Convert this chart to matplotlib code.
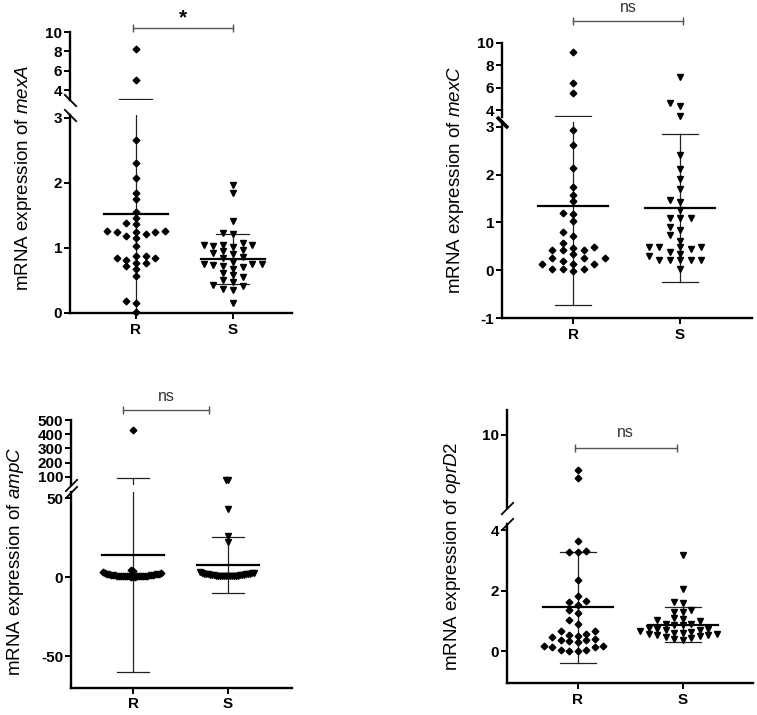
import numpy as np
import matplotlib
matplotlib.use("Agg")
import matplotlib.pyplot as plt

plt.rcParams['font.family'] = ['Liberation Sans', 'DejaVu Sans']
plt.rcParams['mathtext.fontset'] = 'custom'
plt.rcParams['mathtext.rm'] = 'Liberation Sans'
plt.rcParams['mathtext.it'] = 'Liberation Sans:italic'
plt.rcParams['axes.unicode_minus'] = False

groups = ['R', 'S']

# mexA
mexA_R = [8.2, 5.0, 2.66, 2.30, 2.07, 1.85, 1.76, 1.56, 1.46, 1.39, 1.37, 1.26, 1.26,
          1.25, 1.25, 1.24, 1.21, 1.18, 1.16, 1.03, 0.87, 0.87, 0.85, 0.84, 0.82, 0.77,
          0.77, 0.72, 0.68, 0.57, 0.19, 0.16, 0.02]
mexA_S = [1.97, 1.84, 1.41, 1.23, 1.21, 1.07, 1.05, 1.05, 1.04, 1.03, 1.02, 0.97, 0.96,
          0.92, 0.90, 0.86, 0.85, 0.78, 0.76, 0.75, 0.75, 0.74, 0.73, 0.70, 0.68, 0.62,
          0.58, 0.55, 0.50, 0.48, 0.43, 0.41, 0.37, 0.35, 0.16]
mexA_mean = [1.52, 0.83]
mexA_sd = [1.60, 0.39]

# mexC
mexC_R = [9.15, 6.45, 5.55, 2.93, 2.63, 2.14, 1.74, 1.58, 1.46, 1.20, 1.17, 1.04, 0.81,
          0.71, 0.58, 0.49, 0.47, 0.42, 0.42, 0.42, 0.33, 0.25, 0.25, 0.25, 0.19, 0.14,
          0.14, 0.14, 0.03, 0.03, 0.03, -0.01]
mexC_S = [7.0, 4.6, 4.35, 3.47, 2.42, 2.12, 1.91, 1.70, 1.48, 1.42, 1.27, 1.10, 1.10,
          1.10, 0.90, 0.84, 0.73, 0.62, 0.49, 0.49, 0.49, 0.49, 0.44, 0.39, 0.35, 0.29,
          0.21, 0.21, 0.21, 0.21, 0.21, 0.02]
mexC_mean = [1.35, 1.30]
mexC_sd = [2.08, 1.55]

# ampC
ampC_R = [430, 4.4, 3.6, 2.9, 2.6, 2.4, 2.2, 2.0, 1.9, 1.8, 1.6, 1.5, 1.4, 1.3, 1.2,
          1.1, 1.0, 0.95, 0.9, 0.85, 0.8, 0.75, 0.7, 0.65, 0.6, 0.55, 0.5, 0.45, 0.4,
          0.35, 0.3, 0.25, 0.2]
ampC_S = [80, 76, 43, 26, 22, 3.2, 2.8, 2.5, 2.3, 2.1, 2.0, 1.9, 1.8, 1.7, 1.6, 1.5,
          1.4, 1.3, 1.2, 1.1, 1.0, 0.95, 0.9, 0.85, 0.8, 0.75, 0.7, 0.65, 0.6, 0.55,
          0.5, 0.45, 0.4]
ampC_mean = [14.0, 7.6]
ampC_sd = [74.0, 17.9]

# oprD2
oprD2_R = [8.6, 8.3, 3.65, 3.30, 3.28, 3.27, 2.35, 1.83, 1.65, 1.62, 1.52, 1.37, 1.26,
           1.02, 0.90, 0.67, 0.65, 0.55, 0.52, 0.50, 0.48, 0.40, 0.37, 0.35, 0.32, 0.30,
           0.18, 0.16, 0.15, 0.14, 0.03, 0.02, 0.01, 0.00]
oprD2_S = [3.18, 2.06, 1.62, 1.60, 1.35, 1.30, 1.28, 1.08, 1.05, 1.03, 1.00, 0.90, 0.88,
           0.86, 0.85, 0.75, 0.73, 0.72, 0.70, 0.68, 0.66, 0.63, 0.60, 0.58, 0.56, 0.55,
           0.53, 0.52, 0.50, 0.48, 0.42, 0.40, 0.38]
oprD2_mean = [1.44, 0.87]
oprD2_sd = [1.84, 0.58]

W, H = 757, 715
fig = plt.figure(figsize=(W / 100, H / 100), dpi=100)


def box(l, t, r, b):
    return [l / W, 1 - b / H, (r - l) / W, (b - t) / H]


def brk(ax, y, style, lw=1.3, ms=9):
    pts = [(-1, -1), (1, 1)] if style == '/' else [(-1, 1), (1, -1)]
    ax.plot([0], [y], transform=ax.transAxes, marker=pts, ms=ms, mew=lw,
            color='black', clip_on=False, zorder=10)


def swarm(lo, hi, split, pos, vals, xstep, dy):
    px = lo.transData.transform((1, 0))[0] - lo.transData.transform((0, 0))[0]
    order = np.argsort(vals)
    cands = [0]
    for j in range(1, 60):
        cands += [-j, j]
    placed = []
    out = []
    for i in order:
        v = vals[i]
        ax = hi if v > split else lo
        yp = ax.transData.transform((0, v))[1]
        for c in cands:
            if all(not (pc == c and abs(py - yp) < dy) for pc, py in placed):
                break
        placed.append((c, yp))
        out.append((ax, pos + c * xstep / px, v))
    return out


panels = [
    dict(R=mexA_R, S=mexA_S, mean=mexA_mean, sd=mexA_sd, gene='mexA',
         x=(70, 292), xlim=(-0.68, 1.61),
         up=((3.0, 10), 32, 99.7), lo=((0, 3.05), 114.7, 313),
         upt=[4, 6, 8, 10], lot=[0, 1, 2, 3], brk='\\', xstep=9.7, dy=5.5,
         bar=(-0.03, 1.0, 10.41), txt='*', tdy=1.1, lab=(24, 178)),
    dict(R=mexC_R, S=mexC_S, mean=mexC_mean, sd=mexC_sd, gene='mexC',
         x=(502, 752), xlim=(-0.664, 1.673),
         up=((3.35, 10), 43, 117.3), lo=((-1, 3.1), 122.2, 318),
         upt=[4, 6, 8, 10], lot=[-1, 0, 1, 2, 3], brk='thick', xstep=10.5, dy=5.5,
         bar=(0.0, 1.03, 11.97), txt='ns', tdy=1.2, lab=(455, 180)),
    dict(R=ampC_R, S=ampC_S, mean=ampC_mean, sd=ampC_sd, gene='ampC',
         x=(71, 292), xlim=(-0.653, 1.674),
         up=((45, 500), 420, 484.6), lo=((-70, 54), 491.7, 687.6),
         upt=[100, 200, 300, 400, 500], lot=[-50, 0, 50], brk='/', xstep=2.0, dy=4.5,
         bar=(-0.105, 0.8, 570), txt='ns', tdy=95, lab=(16, 561)),
    dict(R=oprD2_R, S=oprD2_S, mean=oprD2_mean, sd=oprD2_sd, gene='oprD2',
         x=(507, 753), xlim=(-0.676, 1.667),
         up=((7.1, 11), 410, 507.5), lo=((-1.05, 4.2), 524, 682.8),
         upt=[10], lot=[0, 2, 4], brk='/', xstep=8.5, dy=5.5,
         bar=(-0.03, 0.94, 9.48), txt='ns', tdy=0.62, lab=(453, 556)),
]

for p in panels:
    l, r = p['x']
    (uylim, ut, ub), (lylim, lt, lb) = p['up'], p['lo']
    hi = fig.add_axes(box(l, ut, r, ub))
    lo = fig.add_axes(box(l, lt, r, lb))
    for ax, ylim, ticks in ((hi, uylim, p['upt']), (lo, lylim, p['lot'])):
        ax.set_xlim(*p['xlim'])
        ax.set_ylim(*ylim)
        ax.set_yticks(ticks)
        ax.set_facecolor('none')
        for s in ('top', 'right'):
            ax.spines[s].set_visible(False)
        ax.spines['left'].set_linewidth(1.7)
        ax.spines['bottom'].set_linewidth(1.7)
        ax.tick_params(axis='both', width=1.4, length=4, labelsize=11, pad=1.5)
        for t in ax.get_yticklabels():
            t.set_fontweight('bold')
    hi.spines['bottom'].set_visible(False)
    hi.set_xticks([])
    lo.set_xticks([0, 1])
    lo.set_xticklabels(groups, fontweight='bold')
    lo.tick_params(axis='x', pad=3)

    if p['brk'] == 'thick':
        brk(lo, 1.0, '\\', lw=2.6, ms=8)
    else:
        brk(hi, 0.0, p['brk'])
        brk(lo, 1.0, p['brk'])

    # mean +/- SD
    for i in range(2):
        m, s = p['mean'][i], p['sd'][i]
        for ax in (hi, lo):
            ax.plot([i, i], [m - s, m + s], color='#222222', lw=0.9, zorder=2)
            ax.plot([i - 0.17, i + 0.17], [m + s] * 2, color='#222222', lw=0.9, zorder=2)
            ax.plot([i - 0.17, i + 0.17], [m - s] * 2, color='#222222', lw=0.9, zorder=2)
            ax.plot([i - 0.33, i + 0.33], [m, m], color='black', lw=1.6, zorder=2)

    split = lylim[1]
    for i, key, mk, ms in ((0, 'R', 'D', 3.4), (1, 'S', 'v', 4.6)):
        for ax, xx, v in swarm(lo, hi, split, i, p[key], p['xstep'], p['dy']):
            ax.plot([xx], [v], marker=mk, ms=ms, color='black', mec='black',
                    ls='none', zorder=3, clip_on=False)

    # significance bar
    x0, x1, yb = p['bar']
    hi.plot([x0, x1], [yb, yb], color='#555555', lw=1.0, clip_on=False)
    hi.plot([x0, x1], [yb, yb], ls='none', marker='|', ms=6, mew=1.0,
            color='#555555', clip_on=False)
    if p['txt'] == '*':
        hi.text((x0 + x1) / 2, yb + p['tdy'], '*', ha='center', va='center',
                fontsize=15, fontweight='bold', clip_on=False)
    else:
        hi.text((x0 + x1) / 2, yb + p['tdy'], 'ns', ha='center', va='center',
                fontsize=11.5, color='#333333', clip_on=False)

    lx, ly = p['lab']
    fig.text(lx / W, 1 - ly / H, r'mRNA expression of $\mathit{%s}$' % p['gene'],
             rotation=90, ha='center', va='center', fontsize=13.5)

fig.savefig('out.png', dpi=100)
